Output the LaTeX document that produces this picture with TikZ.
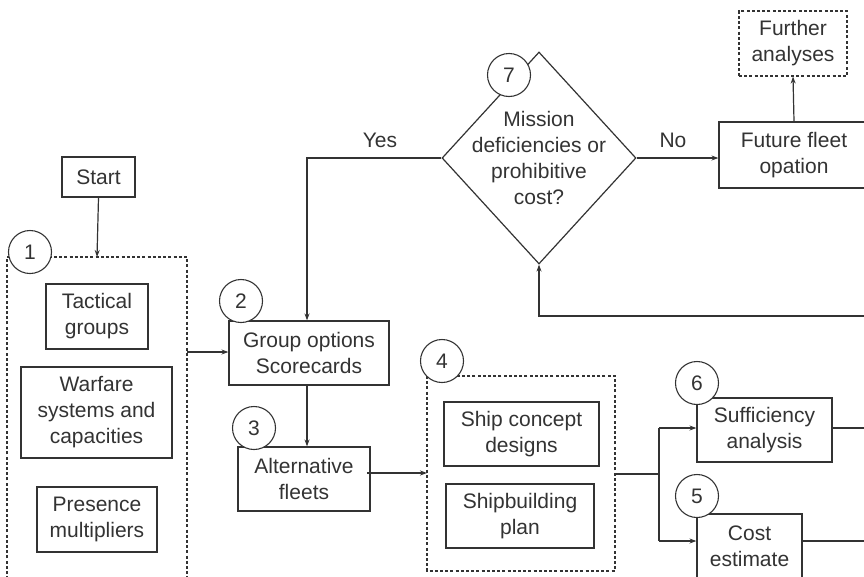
\documentclass[tikz,border=0pt]{standalone}
\usepackage{fontspec}
\setmainfont{Liberation Sans}
\usetikzlibrary{shapes.geometric,arrows.meta}
\definecolor{ink}{HTML}{333333}
\begin{document}
\begin{tikzpicture}[x=1pt,y=-1pt,
  every node/.style={font=\fontsize{21}{26}\selectfont,text=ink},
  box/.style={draw=ink,line width=1.2pt,align=center,inner sep=0pt},
  dbox/.style={draw=ink,line width=1.1pt,dash pattern=on 3pt off 2.2pt},
  num/.style={draw=ink,line width=1.1pt,circle,fill=white,minimum size=43pt,inner sep=0pt},
  conn/.style={draw=ink,line width=1.2pt},
  arr/.style={conn,-{Stealth[length=7pt,width=5pt]}}]
\useasboundingbox (0,0) rectangle (864,576);
\clip (0,0) rectangle (864,576);
\fill[white] (0,0) rectangle (864,576);

% dashed groups
\draw[dbox] (7,600) -- (7,257) -- (187,257) -- (187,600);
\coordinate (b1top) at (97,257);
\coordinate (b1right) at (187,352);
\draw[dbox] (427,376) rectangle (615,571);
\coordinate (b4left) at (427,473);
\coordinate (b4right) at (615,474);

% boxes
\node[box,minimum width=73pt,minimum height=40pt] (start) at (98.5,177) {Start};
\node[box,minimum width=102pt,minimum height=65pt] (tact) at (97,316.5) {Tactical\\groups};
\node[box,minimum width=151pt,minimum height=91pt] (warf) at (96.5,412.5) {Warfare\\systems and\\capacities};
\node[box,minimum width=120pt,minimum height=65pt] (pres) at (97,519.5) {Presence\\multipliers};
\node[box,minimum width=160pt,minimum height=64pt] (grp) at (309,353) {Group options\\Scorecards};
\node[box,minimum width=132pt,minimum height=64pt] (alt) at (304,479) {Alternative\\fleets};
\node[box,minimum width=155pt,minimum height=64pt] (ship) at (521.5,434) {Ship concept\\designs};
\node[box,minimum width=148pt,minimum height=64pt] (sbp) at (520,516) {Shipbuilding\\plan};
\node[box,minimum width=135pt,minimum height=64pt] (suff) at (764.5,430) {Sufficiency\\analysis};
\node[box,minimum width=105pt,minimum height=64pt] (cost) at (749.5,546) {Cost\\estimate};
\node[box,minimum width=150pt,minimum height=66pt] (fut) at (794,155) {Future fleet\\opation};
\node[box,dash pattern=on 3pt off 2.2pt,line width=1.1pt,minimum width=108pt,minimum height=65pt] (fur) at (793,43.5) {Further\\analyses};
\node[draw=ink,line width=1.2pt,diamond,minimum width=194pt,minimum height=212pt,inner sep=0pt] (dia) at (539,158) {};
\node[align=center,inner sep=0pt] (diatext) at (539,157.5) {Mission\\deficiencies or\\prohibitive\\cost?};

% connectors
\coordinate (yescorner) at (307,158);
\coordinate (fbright) at (880,316);
\coordinate (fbcorner) at (539,316);
\coordinate (split) at (659,474);
\coordinate (splittop) at (659,428);
\coordinate (splitbot) at (659,541);
\coordinate (suffout) at (880,428);
\coordinate (costout) at (880,541);

\draw[arr] (start.south) -- (b1top);
\draw[arr] (b1right) -- (b1right -| grp.west);
\draw[arr] (grp.south -| 307,0) -- (alt.north -| 307,0);
\draw[arr] (367,473) -- (b4left);
\draw[conn] (b4right) -- (split);
\draw[arr] (splittop) -- (suff.west |- splittop);
\draw[arr] (splitbot) -- (cost.west |- splitbot);
\draw[conn] (splittop) -- (splitbot);
\draw[conn] (suff.east |- suffout) -- (suffout);
\draw[conn] (cost.east |- costout) -- (costout);
\draw[arr] (fbright) -- (fbcorner) -- (dia.south);
\draw[arr] (dia.west) -- (yescorner) -- (grp.north -| yescorner);
\draw[arr] (dia.east) -- (fut.west |- dia.east);
\draw[arr] (fut.north) -- (fur.south);

% labels
\node (yes) at (380,140) {Yes};
\node (no) at (673,140) {No};

% numbers
\node[num] (c1) at (30,252) {1};
\node[num] (c2) at (241,301) {2};
\node[num] (c3) at (254,428) {3};
\node[num] (c4) at (442,361) {4};
\node[num] (c5) at (697,496) {5};
\node[num] (c6) at (697,383) {6};
\node[num] (c7) at (509,75) {7};
\end{tikzpicture}
\end{document}
